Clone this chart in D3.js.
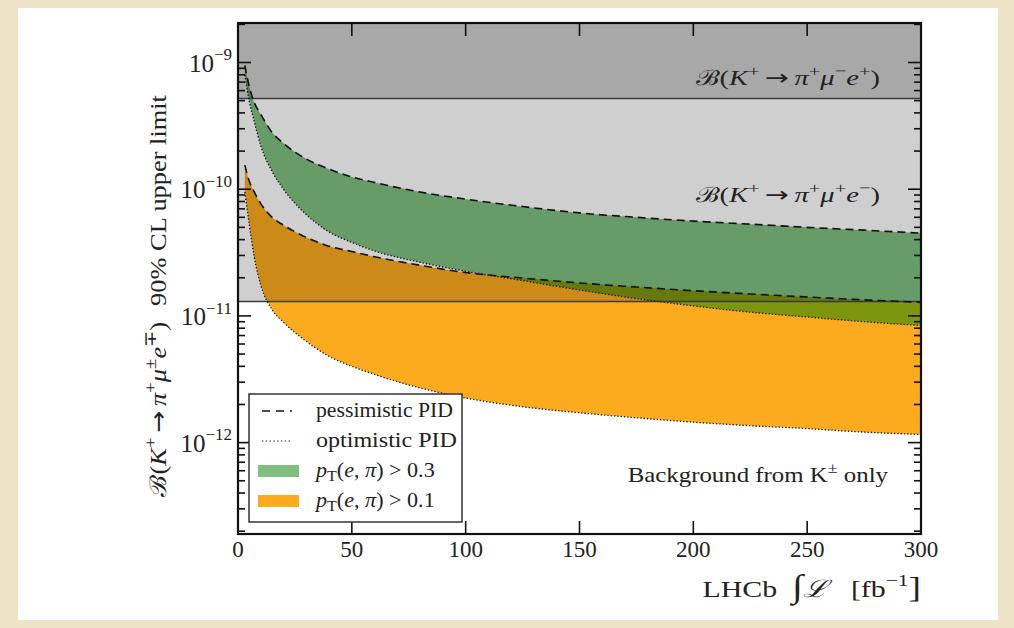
<!DOCTYPE html>
<html><head><meta charset="utf-8">
<script src="https://cdn.jsdelivr.net/npm/d3@7"></script>
<style>
html,body{margin:0;padding:0;background:#eee3c6;}
svg{display:block;}
</style></head><body>
<svg id="chart" width="1014" height="628"></svg>
<script>
// ---- data ----
const lumi = [3,5,7,10,15,20,30,40,50,60,80,100,125,150,175,200,225,250,275,300];
const greenPessimistic = [9.5e-10,6.4e-10,4.9e-10,3.9e-10,2.8e-10,2.3e-10,1.73e-10,1.44e-10,1.25e-10,1.13e-10,9.5e-11,8.35e-11,7.3e-11,6.5e-11,6.0e-11,5.6e-11,5.3e-11,5.0e-11,4.75e-11,4.5e-11];
const greenOptimistic  = [8.0e-10,4.9e-10,3.5e-10,2.2e-10,1.38e-10,1.0e-10,6.3e-11,4.6e-11,3.8e-11,3.25e-11,2.65e-11,2.25e-11,1.9e-11,1.6e-11,1.37e-11,1.2e-11,1.07e-11,9.8e-12,9.0e-12,8.4e-12];
const orangePessimistic = [1.55e-10,1.15e-10,9.6e-11,7.7e-11,6.0e-11,5.2e-11,4.17e-11,3.55e-11,3.22e-11,2.93e-11,2.51e-11,2.2e-11,1.99e-11,1.82e-11,1.69e-11,1.58e-11,1.49e-11,1.41e-11,1.34e-11,1.28e-11];
const orangeOptimistic  = [9.5e-11,5.2e-11,3.0e-11,1.75e-11,1.12e-11,8.9e-12,6.3e-12,4.8e-12,4.0e-12,3.45e-12,2.7e-12,2.25e-12,1.92e-12,1.72e-12,1.57e-12,1.45e-12,1.36e-12,1.29e-12,1.21e-12,1.16e-12];
const limitMuMinusEPlus = 5.2e-10;
const limitMuPlusEMinus = 1.3e-11;
const xTickValues = [0,50,100,150,200,250,300];
const yMajorTicks = [1e-12,1e-11,1e-10,1e-9];
const yTickExponents = ["−12","−11","−10","−9"];
const legendLineLabels = ["pessimistic PID","optimistic PID"];
const legendCuts = ["0.3","0.1"];

// ---- layout ----
const L = 238, R = 921, T = 23, B = 534;
const svg = d3.select("#chart");
const FONT = "'Liberation Serif','Times New Roman',serif";
const INK = "#222";

svg.append("rect").attr("x",18).attr("y",8).attr("width",980).attr("height",612).attr("fill","#fff");

const x = d3.scaleLinear().domain([0,300]).range([L,R]);
const y = d3.scaleLog().domain([1.9e-13,2.05e-9]).range([B,T]);

svg.append("defs").append("clipPath").attr("id","clip").append("rect")
  .attr("x",L).attr("y",T).attr("width",R-L).attr("height",B-T);
const plot = svg.append("g").attr("clip-path","url(#clip)");

const green = lumi.map((l,i)=>({x:l, hi:greenPessimistic[i], lo:greenOptimistic[i]}));
const orange = lumi.map((l,i)=>({x:l, hi:orangePessimistic[i], lo:orangeOptimistic[i]}));
const curve = d3.curveMonotoneX;
const area = d3.area().x(d=>x(d.x)).y0(d=>y(d.lo)).y1(d=>y(d.hi)).curve(curve);
const lineHi = d3.line().x(d=>x(d.x)).y(d=>y(d.hi)).curve(curve);
const lineLo = d3.line().x(d=>x(d.x)).y(d=>y(d.lo)).curve(curve);

const ORANGE = "rgb(252,170,30)";
const GREEN = "rgb(0,128,0)";
plot.append("path").datum(orange).attr("d",area).attr("fill",ORANGE);
plot.append("path").datum(green).attr("d",area).attr("fill",GREEN).attr("fill-opacity",0.5);

[limitMuPlusEMinus, limitMuMinusEPlus].forEach(v=>{
  plot.append("rect").attr("x",L).attr("y",T).attr("width",R-L).attr("height",y(v)-T)
    .attr("fill","#000").attr("fill-opacity",0.19);
});
[limitMuPlusEMinus, limitMuMinusEPlus].forEach(v=>{
  plot.append("line").attr("x1",L).attr("x2",R).attr("y1",y(v)).attr("y2",y(v))
    .attr("stroke","#3a3a3a").attr("stroke-width",1.6);
});
[green,orange].forEach(d=>{
  plot.append("path").datum(d).attr("d",lineHi).attr("fill","none").attr("stroke","#111")
    .attr("stroke-width",1.6).attr("stroke-dasharray","8,5");
  plot.append("path").datum(d).attr("d",lineLo).attr("fill","none").attr("stroke","#111")
    .attr("stroke-width",1.3).attr("stroke-dasharray","1.3,2");
});

// ---- rich text helper ----
function rich(t, parts, fs){
  let shift = 0;
  parts.forEach(p=>{
    const sc = p.supScale || 0.72;
    const target = p.sup ? -0.45*fs : (p.sub ? 0.22*fs : 0);
    const ts = t.append("tspan").text(p.t).attr("dy", target - shift);
    shift = target;
    if (p.dx) ts.attr("dx", p.dx);
    if (p.sup || p.sub) ts.attr("font-size", fs*sc);
    if (p.size) ts.attr("font-size", fs*p.size);
    if (p.i) ts.attr("font-style","italic");
    if (p.f) ts.attr("font-family", p.f);
  });
  return t;
}
function label(ax, ay, anchor, fs, parts, targetW, rot){
  const g = svg.append("g").attr("transform",`translate(${ax},${ay})`+(rot?` rotate(${rot})`:""));
  const t = g.append("text").attr("text-anchor",anchor).attr("font-family",FONT)
    .attr("font-size",fs).attr("fill",INK);
  rich(t, parts, fs);
  if (targetW){
    const w = t.node().getBBox().width;
    t.attr("transform",`scale(${targetW/w},1)`);
  }
  return g;
}
const ARW = "'DejaVu Sans',sans-serif";

// ---- axes ----
const axes = svg.append("g");
const majLen = 13, minLen = 7;
const yAll = [];
for (let e=-13; e<=-9; e++) for (let m=1; m<=9; m++){ const v=m*Math.pow(10,e); if (v>=y.domain()[0] && v<=y.domain()[1]) yAll.push({v, major:m===1}); }
yAll.forEach(d=>{
  const len = d.major?majLen:minLen;
  axes.append("line").attr("x1",L).attr("x2",L+len).attr("y1",y(d.v)).attr("y2",y(d.v)).attr("stroke","#111").attr("stroke-width",1.6);
  axes.append("line").attr("x1",R).attr("x2",R-len).attr("y1",y(d.v)).attr("y2",y(d.v)).attr("stroke","#111").attr("stroke-width",1.6);
});
xTickValues.forEach(v=>{
  axes.append("line").attr("x1",x(v)).attr("x2",x(v)).attr("y1",B).attr("y2",B-majLen).attr("stroke","#111").attr("stroke-width",1.6);
  axes.append("line").attr("x1",x(v)).attr("x2",x(v)).attr("y1",T).attr("y2",T+majLen).attr("stroke","#111").attr("stroke-width",1.6);
});
axes.append("rect").attr("x",L).attr("y",T).attr("width",R-L).attr("height",B-T)
  .attr("fill","none").attr("stroke","#111").attr("stroke-width",2.2);

// y tick labels
yMajorTicks.forEach((v,i)=>{
  label(232, y(v)+9, "end", 25, [{t:"10"},{t:yTickExponents[i],sup:true,supScale:0.68}], null);
});
// x tick labels
xTickValues.forEach(v=>{
  label(x(v), 557, "middle", 23, [{t:String(v)}], null);
});

// x title
label(921, 597, "end", 24,
  [{t:"LHCb"},{t:"∫",size:1.35,dx:12},{t:"ℒ",i:true},{t:"[fb",dx:18},{t:"−1",sup:true},{t:"]",size:1.25}], 218);
// y title
label(166, 296, "middle", 23,
  [{t:"ℬ("},{t:"K",i:true},{t:"+",sup:true},{t:"→",f:ARW,dx:4},{t:"π",i:true,dx:4},{t:"+",sup:true},{t:"μ",i:true},{t:"±",sup:true},{t:"e",i:true},{t:"∓",sup:true},{t:")"},{t:"90% CL upper limit",dx:14}], 402, -90);

// annotations
function decayLabel(yPos, muSign, eSign){
  label(880, yPos, "end", 21,
    [{t:"ℬ("},{t:"K",i:true},{t:"+",sup:true},{t:"→",f:ARW,dx:4},{t:"π",i:true,dx:4},{t:"+",sup:true},{t:"μ",i:true},{t:muSign,sup:true},{t:"e",i:true},{t:eSign,sup:true},{t:")"}], 185);
}
decayLabel(85,"−","+");
decayLabel(202,"+","−");
label(888, 482, "end", 21, [{t:"Background from K"},{t:"±",sup:true},{t:" only"}], 261);

// legend
const lg = svg.append("g");
lg.append("rect").attr("x",249).attr("y",394).attr("width",213).attr("height",128)
  .attr("fill","#fff").attr("stroke","#333").attr("stroke-width",1.5);
const rowY = [411,441,471,501];
lg.append("line").attr("x1",262).attr("x2",292).attr("y1",rowY[0]).attr("y2",rowY[0])
  .attr("stroke","#111").attr("stroke-width",1.6).attr("stroke-dasharray","8,6");
lg.append("line").attr("x1",262).attr("x2",292).attr("y1",rowY[1]).attr("y2",rowY[1])
  .attr("stroke","#111").attr("stroke-width",1.2).attr("stroke-dasharray","1.3,2.5");
lg.append("rect").attr("x",258).attr("y",rowY[2]-6).attr("width",41).attr("height",12)
  .attr("fill",GREEN).attr("fill-opacity",0.5);
lg.append("rect").attr("x",258).attr("y",rowY[3]-6).attr("width",41).attr("height",12)
  .attr("fill",ORANGE);
const legendWidths = [137,141];
legendLineLabels.forEach((s,i)=>{
  label(316, rowY[i]+6, "start", 20, [{t:s}], legendWidths[i]);
});
legendCuts.forEach((c,i)=>{
  label(316, rowY[i+2]+6, "start", 20,
    [{t:"p",i:true},{t:"T",sub:true},{t:"("},{t:"e",i:true},{t:", "},{t:"π",i:true},{t:") > "+c}], 121);
});
</script>
</body></html>
